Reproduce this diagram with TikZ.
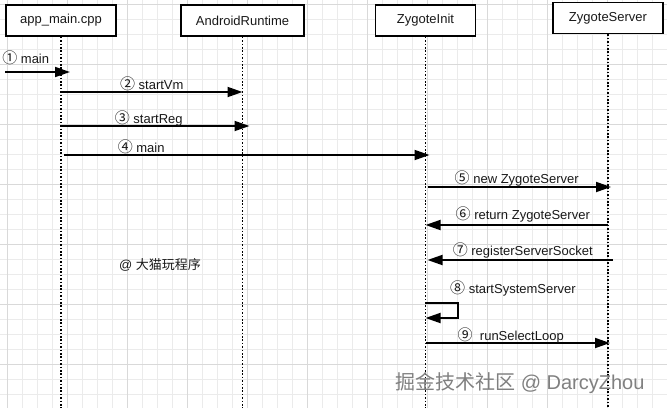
\documentclass[tikz,border=0pt]{standalone}
\usepackage{fontspec}
\setmainfont{Liberation Sans}
\newfontfamily\cjk{Noto Sans CJK SC}
\usetikzlibrary{arrows.meta}
\newcommand\num[1]{{\cjk\fontsize{15}{15}\selectfont #1}}
\begin{document}
\begin{tikzpicture}[x=1pt,y=-1pt,
	every node/.style={font=\fontsize{13}{15}\selectfont,text=black!90},
	minorline/.style={draw=black!8,line width=0.6pt},
	majorline/.style={draw=black!15,line width=0.8pt},
	actor/.style={draw,line width=1.6pt,fill=white,minimum height=31pt,inner sep=0pt},
	life/.style={line width=1.8pt,dash pattern=on 1.6pt off 1.8pt},
	msg/.style={line width=1.8pt,-{Triangle[length=15pt,width=10pt]}},
	lbl/.style={anchor=center,yshift=8pt,inner sep=0pt}]
\fill[white] (0,0) rectangle (667,408);
\useasboundingbox (0,0) rectangle (667,408);
% grid
\foreach \gx in {7,22,...,667} \draw[minorline] (\gx,0) -- (\gx,408);
\foreach \gy in {4,19,...,408} \draw[minorline] (0,\gy) -- (667,\gy);
\foreach \gx in {7,67,...,667} \draw[majorline] (\gx,0) -- (\gx,408);
\foreach \gy in {4,64,...,408} \draw[majorline] (0,\gy) -- (667,\gy);
% actors
\node[actor,minimum width=110pt] (app) at (61,20.5) {app\_main.cpp};
\node[actor,minimum width=123pt] (art) at (242.5,20.5) {AndroidRuntime};
\node[actor,minimum width=100pt] (zinit) at (425.5,20.5) {ZygoteInit};
\node[actor,minimum width=110pt] (zserver) at (608,18) {ZygoteServer};
% lifelines
\draw[life] (app.south) -- (app.south |- 0,408);
\draw[life] (art.south) -- (art.south |- 0,408);
\draw[life] (zinit.south) -- (zinit.south |- 0,408);
\draw[life] (zserver.south) -- (zserver.south |- 0,408);
% messages
\coordinate (entry) at (5,72);
\draw[msg,shorten >=-9pt] (entry) -- (app |- entry) node[lbl,pos=0.37,yshift=6pt] {\num{①} main};
\draw[msg] (app |- 0,92) -- (art |- 0,92) node[lbl,midway] {\num{②} startVm};
\draw[msg,shorten >=-7pt] (app |- 0,126) -- (art |- 0,126) node[lbl,midway,xshift=-3pt] {\num{③} startReg};
\draw[msg,shorten <=3pt,shorten >=-4pt] (app |- 0,155) -- (zinit |- 0,155) node[lbl,pos=0.22] {\num{④} main};
\draw[msg,shorten <=2pt,shorten >=-3pt] (zinit |- 0,187) -- (zserver |- 0,187) node[lbl,midway,yshift=1pt] {\num{⑤} new ZygoteServer};
\draw[msg] (zserver |- 0,225) -- (zinit |- 0,225) node[lbl,midway,xshift=6pt,yshift=3pt] {\num{⑥} return ZygoteServer};
\draw[msg,shorten <=-5pt,shorten >=2pt] (zserver |- 0,260) -- (zinit |- 0,260) node[lbl,midway,xshift=6pt,yshift=2pt] {\num{⑦} registerServerSocket};
\draw[msg] (zinit |- 0,303) -| (458,318) -- (zinit |- 0,318);
\node[lbl,anchor=west,yshift=0pt] (self) at (450,296) {\num{⑧} startSystemServer};
\draw[msg,shorten >=-2pt] (zinit |- 0,343) -- (zserver |- 0,343) node[lbl,midway,xshift=-6pt] {\num{⑨}\ \ runSelectLoop};
% notes
\node[inner sep=0pt] (note) at (160,265) {@ {\cjk 大猫玩程序}};
\node[anchor=west,inner sep=0pt,text=black!50,font=\fontsize{20}{22}\selectfont] (mark) at (395,383) {{\cjk 掘金技术社区} @ DarcyZhou};
\end{tikzpicture}
\end{document}
